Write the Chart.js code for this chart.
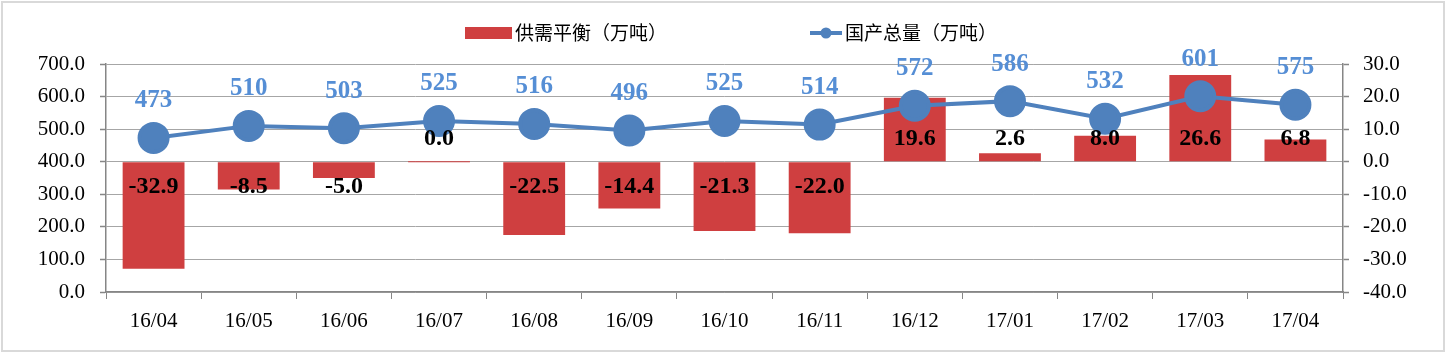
<!DOCTYPE html>
<html><head><meta charset="utf-8">
<script src="https://cdn.jsdelivr.net/npm/chart.js@4/dist/chart.umd.min.js"></script>
<style>html,body{margin:0;padding:0;background:#fff;}#wrap{width:1446px;height:353px;position:relative;}</style>
</head><body><div id="wrap"><canvas id="c" width="1446" height="353"></canvas></div>
<script>
const categories = ['16/04','16/05','16/06','16/07','16/08','16/09','16/10','16/11','16/12','17/01','17/02','17/03','17/04'];
const balanceValues = [-32.9,-8.5,-5.0,0.0,-22.5,-14.4,-21.3,-22.0,19.6,2.6,8.0,26.6,6.8];
const outputValues = [473,510,503,525,516,496,525,514,572,586,532,601,575];
const balanceLabel = '供需平衡（万吨）';
const outputLabel = '国产总量（万吨）';
const leftTicks = {min:0,max:700,step:100};
const rightTicks = {min:-40,max:30,step:10};

const RED = '#CF3F40', BLUE = '#4F81BD', LBLUE = '#558ED5';
const serif = '"Liberation Serif","Times New Roman",serif';
const cjk = '"Noto Sans CJK SC","Noto Sans",sans-serif';

const frame = {
  id:'frame',
  beforeDraw(chart){
    const c = chart.ctx; c.save();
    c.fillStyle='#fff'; c.fillRect(0,0,chart.width,chart.height);
    c.strokeStyle='#D9D9D9'; c.lineWidth=2;
    c.strokeRect(2,2,chart.width-4,chart.height-4);
    c.restore();
  },
  afterDraw(chart){
    const c = chart.ctx; c.save();
    // legend
    c.font = '19px '+cjk; c.textBaseline='middle'; c.textAlign='left';
    const ly = 33;
    c.fillStyle = RED; c.fillRect(465, ly-6, 47, 12);
    c.fillStyle='#000'; c.fillText(chart.data.datasets[1].label, 515, ly);
    c.strokeStyle = BLUE; c.lineWidth=4; c.beginPath(); c.moveTo(810,ly); c.lineTo(842,ly); c.stroke();
    c.fillStyle = BLUE; c.beginPath(); c.arc(826,ly,5.5,0,Math.PI*2); c.fill();
    c.fillStyle='#000'; c.fillText(chart.data.datasets[0].label, 845, ly);
    // bar labels
    const y1 = chart.scales.y1;
    const zero = y1.getPixelForValue(0);
    const barMeta = chart.getDatasetMeta(1);
    c.font = 'bold 24px '+serif; c.textAlign='center'; c.fillStyle='#000';
    barMeta.data.forEach((el,i)=>{
      const v = balanceValues[i];
      const y = v < 0 ? zero + 25 : zero - 23;
      c.fillText(v.toFixed(1), el.x, y);
    });
    // line labels
    const lineMeta = chart.getDatasetMeta(0);
    c.font = 'bold 25px '+serif;
    c.fillStyle = LBLUE;
    lineMeta.data.forEach((el,i)=>{
      c.fillText(String(outputValues[i]), el.x, el.y - 37);
    });
    c.restore();
  }
};

new Chart(document.getElementById('c'), {
  data: {
    labels: categories,
    datasets: [
      {type:'line', label: outputLabel, data: outputValues, yAxisID:'y', borderColor: BLUE, backgroundColor: BLUE,
       borderWidth:4, pointRadius:14, pointHoverRadius:14, pointBackgroundColor: BLUE, pointBorderColor: BLUE, tension:0, order:0},
      {type:'bar', label: balanceLabel, data: balanceValues, yAxisID:'y1', backgroundColor: RED,
       categoryPercentage:1, barPercentage:0.65, minBarLength:1, order:1}
    ]
  },
  options: {
    responsive:false, animation:false, devicePixelRatio:1,
    layout:{padding:{top:64,left:0,right:0,bottom:0}},
    plugins:{legend:{display:false}, tooltip:{enabled:false}},
    scales:{
      x:{
        grid:{offset:true, drawOnChartArea:false, drawTicks:true, tickLength:7, tickColor:'#868686', color:'#868686'},
        border:{display:true,color:'#868686',width:1.5},
        ticks:{font:{family:serif,size:21},color:'#000',padding:10,maxRotation:0},
        afterFit(s){ s.height = 61; }
      },
      y:{
        position:'left', min:leftTicks.min, max:leftTicks.max,
        ticks:{stepSize:leftTicks.step, font:{family:serif,size:21}, color:'#000', padding:15,
               callback:v=>Number(v).toFixed(1)},
        grid:{color:'#A6A6A6', lineWidth:1, borderDash:[2,2], tickLength:6, tickColor:'#868686', tickBorderDash:[], tickWidth:1.5},
        border:{display:true,color:'#868686',width:1.5},
        afterFit(s){ s.width = 106; }
      },
      y1:{
        position:'right', min:rightTicks.min, max:rightTicks.max,
        ticks:{stepSize:rightTicks.step, font:{family:serif,size:21}, color:'#000', padding:14,
               callback:v=>Number(v).toFixed(1)},
        grid:{drawOnChartArea:false, tickLength:6, tickColor:'#868686', tickWidth:1.5},
        border:{display:true,color:'#868686',width:1.5},
        afterFit(s){ s.width = 103; }
      }
    }
  },
  plugins:[frame]
});
</script></body></html>
